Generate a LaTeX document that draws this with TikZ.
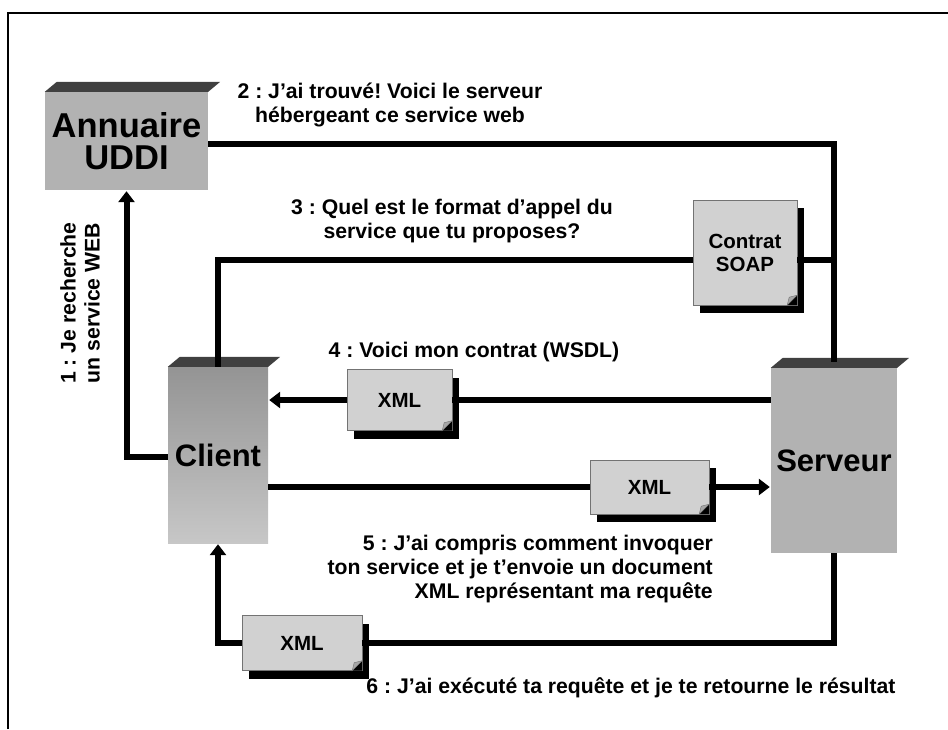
\documentclass[tikz,border=0pt]{standalone}
\usepackage{fontspec}
\setmainfont{Liberation Sans}
\usetikzlibrary{arrows.meta,shadows}
\frenchspacing

\tikzset{
  flux/.style={line width=6pt},
  fleche/.style={flux, -{Triangle[length=11pt,width=16pt]}, shorten >=1pt},
  machine/.style={fill=black!30, inner sep=0pt, align=center, font=\fontsize{31}{32}\selectfont\bfseries},
  doc/.style={fill=black!18, draw=black!55, inner sep=0pt, align=center,
    font=\fontsize{20.5}{23}\selectfont\bfseries,
    drop shadow={shadow xshift=7pt, shadow yshift=-8pt, fill=black, opacity=1}},
  texte/.style={inner sep=0pt, align=center, font=\fontsize{21.2}{24}\selectfont\bfseries},
}

\begin{document}
\begin{tikzpicture}[x=1pt,y=-1pt]
  \useasboundingbox (0,0) rectangle (948,729);
  % Cadre
  \draw[line width=1.6pt] (8,729) -- (8,13) -- (948,13);

  % Annuaire, client et serveur
  \node[machine, font=\fontsize{34.5}{32}\selectfont\bfseries, minimum width=163pt, minimum height=98pt] (uddi) at (126.5,141) {Annuaire\\UDDI};
  \node[machine, top color=black!42, bottom color=black!22, minimum width=100pt, minimum height=176pt] (client) at (218,455) {\raisebox{-7pt}{Client}};
  \node[machine, minimum width=126pt, minimum height=185pt] (serveur) at (834,460.5) {Serveur};

  % Faces du dessus
  \foreach \m in {uddi,client,serveur}
    \fill[black!75] (\m.north west) -- ++(12,-10) -- ([shift={(12pt,10pt)}]\m.north east) -- (\m.north east) -- cycle;

  % Documents echanges
  \node[doc, minimum width=104pt, minimum height=105pt] (soap) at (745,252.5) {Contrat\\SOAP};
  \node[doc, minimum width=105pt, minimum height=61pt] (xmlA) at (399.5,400) {XML};
  \node[doc, minimum width=119pt, minimum height=54pt] (xmlB) at (649.5,487) {XML};
  \node[doc, minimum width=120pt, minimum height=55pt] (xmlC) at (302,643) {XML};
  \foreach \d in {soap,xmlA,xmlB,xmlC} {
    \fill[black] ([xshift=-10pt]\d.south east) -- (\d.south east) -- ([yshift=10pt]\d.south east) -- cycle;
    \filldraw[fill=black!35, draw=black!55] ([xshift=-10pt]\d.south east) -- ([yshift=10pt]\d.south east) -- ([shift={(-8pt,8pt)}]\d.south east) -- cycle;
  }

  % Etapes
  \draw[fleche] ([yshift=-2pt]client.west) -| (uddi.south);
  \draw[flux] ([yshift=-3pt]uddi.east) -| ([yshift=6pt]serveur.north);
  \draw[flux] (client.north) |- ([yshift=-7pt]soap.west);
  \draw[flux] ([yshift=-7pt]soap.east) -- ([yshift=-7pt]soap.east -| serveur.north);
  \draw[flux] (xmlA.east -| serveur.west) -- (xmlA.east);
  \draw[fleche] (xmlA.west) -- (xmlA.west -| client.east);
  \draw[flux] (xmlB.west -| client.east) -- (xmlB.west);
  \draw[fleche] (xmlB.east) -- (xmlB.east -| serveur.west);
  \draw[flux] (serveur.south) |- (xmlC.east);
  \draw[fleche] (xmlC.west) -| (client.south);

  % Textes
  \node[texte, rotate=90] (t1) at (80,303) {1 : Je recherche\\un service WEB};
  \node[texte] (t2) at (390,105) {2 : J’ai trouvé! Voici le serveur\\hébergeant ce service web};
  \node[texte] (t3) at (452,221.5) {3 : Quel est le format d’appel du\\service que tu proposes?};
  \node[texte] (t4) at (474,352) {4 : Voici mon contrat (WSDL)};
  \node[texte, align=right, anchor=east] (t5) at (713,569) {5 : J’ai compris comment invoquer\\ton service et je t’envoie un document\\XML représentant ma requête};
  \node[texte] (t6) at (631,688) {6 : J’ai exécuté ta requête et je te retourne le résultat};
\end{tikzpicture}
\end{document}
